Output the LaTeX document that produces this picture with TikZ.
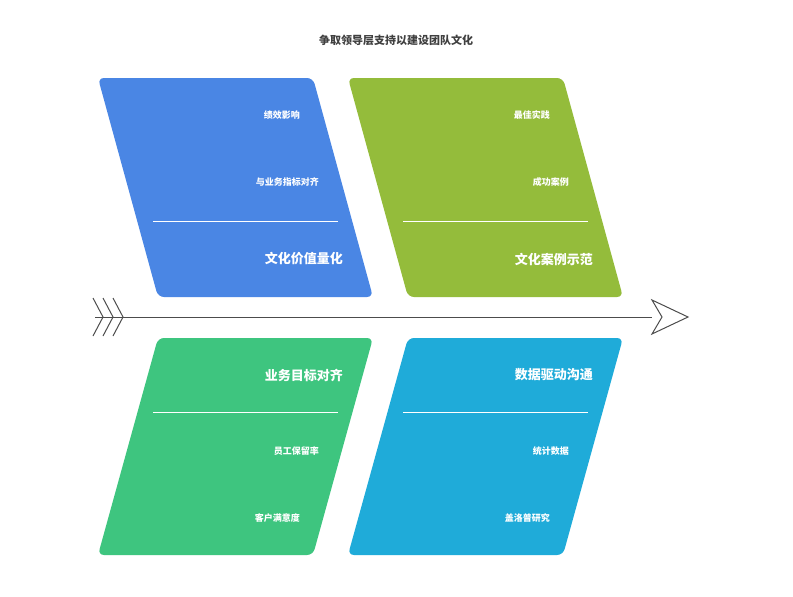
\documentclass[tikz,border=0pt]{standalone}
\usepackage{fontspec}
\setmainfont{Noto Sans CJK SC}
\begin{document}
\begin{tikzpicture}[x=1pt,y=-1pt,
  box/.style={rounded corners=6pt},
  sm/.style={text=white,font=\fontsize{9}{10}\selectfont\bfseries,anchor=east,inner sep=0},
  bg/.style={text=white,font=\fontsize{13}{14}\selectfont\bfseries,anchor=east,inner sep=0},
  dv/.style={white,line width=0.8pt}]
\useasboundingbox (0,0) rectangle (793,597);
\fill[white] (0,0) rectangle (793,597);
\node[font=\fontsize{11}{12}\selectfont\bfseries,text=black!75] (title) at (396,40) {争取领导层支持以建设团队文化};
% boxes
\fill[box,fill={rgb,255:red,74;green,134;blue,228}] (98,78)--(313,78)--(373,297)--(158,297)--cycle;
\fill[box,fill={rgb,255:red,148;green,188;blue,59}] (348,78)--(563,78)--(623,297)--(408,297)--cycle;
\fill[box,fill={rgb,255:red,62;green,197;blue,127}] (158,338)--(373,338)--(313,555)--(98,555)--cycle;
\fill[box,fill={rgb,255:red,31;green,171;blue,217}] (408,338)--(623,338)--(563,555)--(348,555)--cycle;
% spine
\coordinate (s0) at (95,317);
\coordinate (s1) at (652,317);
\draw[black!70,line width=1pt] (s0)--(s1);
\draw[black!70,line width=1pt,fill=white] (652,300)--(688,317)--(652,334)--(662,317)--cycle;
\foreach \d in {0,10,20}{
  \draw[black!70,line width=1pt] (93+\d,298)--(103+\d,317)--(93+\d,336);}
% texts top-left
\node[sm] (a1) at (300,115) {绩效影响};
\node[sm] (a2) at (319,182) {与业务指标对齐};
\draw[dv] (153,221)--(338,221);
\node[bg] (a3) at (343,259) {文化价值量化};
% top-right
\node[sm] (b1) at (550,115) {最佳实践};
\node[sm] (b2) at (569,182) {成功案例};
\draw[dv] (403,221)--(588,221);
\node[bg] (b3) at (593,259) {文化案例示范};
% bottom-left
\node[bg] (c1) at (343,375) {业务目标对齐};
\draw[dv] (153,412)--(338,412);
\node[sm] (c2) at (319,451) {员工保留率};
\node[sm] (c3) at (300,518) {客户满意度};
% bottom-right
\node[bg] (d1) at (593,375) {数据驱动沟通};
\draw[dv] (403,412)--(588,412);
\node[sm] (d2) at (569,451) {统计数据};
\node[sm] (d3) at (550,518) {盖洛普研究};
\end{tikzpicture}
\end{document}
